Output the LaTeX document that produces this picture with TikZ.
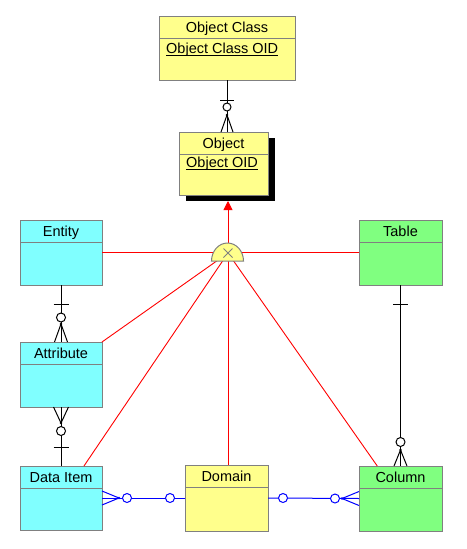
\documentclass[tikz,border=0pt]{standalone}
\usepackage{fontspec}
\setmainfont{Liberation Sans}
\usetikzlibrary{calc,arrows.meta}
\definecolor{yel}{RGB}{255,255,140}
\definecolor{cyn}{RGB}{128,255,255}
\definecolor{grn}{RGB}{128,255,128}
\definecolor{boxgray}{RGB}{128,128,128}
\tikzset{
  erbox/.style={draw=boxgray, line width=1pt, inner sep=0pt, outer sep=0pt, anchor=north west},
  conn/.style={line width=1pt, black},
  bconn/.style={line width=1pt, blue},
  redline/.style={line width=0.9pt, red},
  every node/.style={font=\fontsize{14.5}{16}\selectfont}
}
\newcommand\erent[7]{%
  \node[erbox, fill=#6, minimum width=#4, minimum height=#5] (#1) at (#2,#3) {};
  \draw[boxgray, line width=1pt] ($(#1.north west)+(0,22)$) -- ($(#1.north east)+(0,22)$);
  \node[anchor=base, inner sep=0pt] (#1T) at ($(#1.north)+(0,16.5)$) {#7};
}
\begin{document}
\begin{tikzpicture}[x=1pt,y=-1pt]
\useasboundingbox[fill=white] (0,0) rectangle (466,549);

% shadow of Object
\node[fill=black, draw=none, inner sep=0pt, outer sep=0pt, anchor=north west, minimum width=89, minimum height=63] (objshadow) at (186,138) {};

% entities
\erent{oc}{159}{16}{136}{64}{yel}{Object Class}
\erent{obj}{179}{132}{89}{63}{yel}{Object}
\erent{entity}{20}{220}{82}{65}{cyn}{Entity}
\erent{table}{359}{220}{83}{65}{grn}{Table}
\erent{attribute}{20}{342}{82}{65}{cyn}{Attribute}
\erent{dataitem}{20}{466}{82}{64}{cyn}{Data Item}
\erent{domain}{185}{465}{83}{66}{yel}{Domain}
\erent{column}{359}{466}{83}{65}{grn}{Column}

% key attributes
\node[anchor=base west, inner sep=0pt] (ocK) at ($(oc.north west)+(7,37)$) {Object Class OID};
\draw[line width=1pt] ($(ocK.base west)+(0,2)$) -- ($(ocK.base east)+(0,2)$);
\node[anchor=base west, inner sep=0pt] (objK) at ($(obj.north west)+(7,35.5)$) {Object OID};
\draw[line width=1pt] ($(objK.base west)+(0,2)$) -- ($(objK.base east)+(0,2)$);

% subtype cluster
\coordinate (sub) at (228,253);
\coordinate (subbase) at (227.5,261);
\coordinate (subtop) at (228,243);
\draw[redline] (entity.east) -- (table.west);
\draw[redline] (sub) -- (attribute.north east);
\draw[redline] (sub) -- ($(dataitem.north west)!0.78!(dataitem.north east)$);
\draw[redline] (sub) -- ($(column.north west)!0.22!(column.north east)$);
\draw[redline] (sub) -- (sub |- domain.north);
\draw[redline, -{Triangle[length=9pt,width=9pt]}] (subtop) -- (subtop |- objshadow.south);
\draw[boxgray, line width=1pt, fill=yel] ($(subbase)+(-16,0)$) arc[start angle=180, end angle=0, x radius=16pt, y radius=18pt] -- cycle;
\draw[boxgray, line width=0.8pt] ($(sub)+(-4.5,-4.5)$) -- ($(sub)+(4.5,4.5)$);
\draw[boxgray, line width=0.8pt] ($(sub)+(-4.5,4.5)$) -- ($(sub)+(4.5,-4.5)$);

% Object Class -> Object
\draw[conn] (oc.south) -- (oc.south |- obj.north);
\draw[conn] ($(oc.south)+(-7,20)$) -- ++(14,0);
\coordinate (p1) at ($(oc.south |- obj.north)+(0,-17)$);
\draw[conn] (p1) -- ++(-6,17);
\draw[conn] (p1) -- ++(6,17);
\fill (p1) circle (1.3pt);
\draw[conn, fill=white] ($(oc.south)+(0,27)$) circle (4pt);

% Entity -> Attribute
\draw[conn] (entity.south) -- (attribute.north);
\draw[conn] ($(entity.south)+(-7.5,19)$) -- ++(15,0);
\coordinate (p2) at ($(attribute.north)+(0,-18)$);
\draw[conn] (p2) -- ++(-6.5,18);
\draw[conn] (p2) -- ++(6.5,18);
\fill (p2) circle (1.3pt);
\draw[conn, fill=white] ($(entity.south)+(0,32.5)$) circle (4.5pt);

% Attribute -> Data Item
\draw[conn] (attribute.south) -- (dataitem.north);
\coordinate (p3) at ($(attribute.south)+(0,16)$);
\draw[conn] (p3) -- ++(-7.5,-16);
\draw[conn] (p3) -- ++(7.5,-16);
\fill (p3) circle (1.3pt);
\draw[conn, fill=white] ($(attribute.south)+(0,24)$) circle (4.5pt);
\draw[conn] ($(dataitem.north)+(-7.5,-19)$) -- ++(15,0);

% Table -> Column
\draw[conn] (table.south) -- (column.north);
\draw[conn] ($(table.south)+(-7.5,19)$) -- ++(15,0);
\coordinate (p4) at ($(column.north)+(0,-16)$);
\draw[conn] (p4) -- ++(-6.5,16);
\draw[conn] (p4) -- ++(6.5,16);
\fill (p4) circle (1.3pt);
\draw[conn, fill=white] ($(column.north)+(0,-24)$) circle (4.5pt);

% Data Item -> Domain
\draw[bconn] (dataitem.east) -- (domain.west);
\coordinate (p5) at ($(dataitem.east)+(17,0)$);
\draw[bconn] (p5) -- ++(-17,-7);
\draw[bconn] (p5) -- ++(-17,7);
\fill[blue] (p5) circle (1.3pt);
\draw[bconn, fill=white] ($(dataitem.east)+(25,0)$) circle (4.5pt);
\draw[bconn, fill=white] ($(domain.west)+(-15,0)$) circle (4.5pt);

% Domain -> Column
\draw[bconn] (domain.east) -- (column.west);
\draw[bconn, fill=white] ($(domain.east)+(15,0)$) circle (4.5pt);
\coordinate (p6) at ($(column.west)+(-17,0)$);
\draw[bconn] (p6) -- ++(17,-7);
\draw[bconn] (p6) -- ++(17,7);
\fill[blue] (p6) circle (1.3pt);
\draw[bconn, fill=white] ($(column.west)+(-24,0)$) circle (4.5pt);
\end{tikzpicture}
\end{document}
